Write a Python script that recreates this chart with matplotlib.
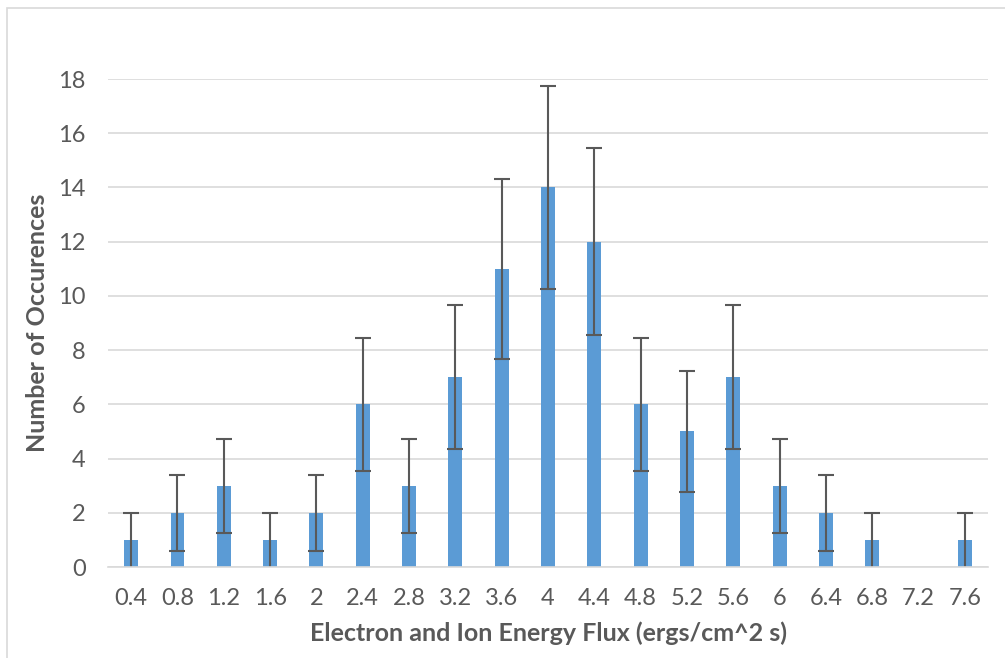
import matplotlib
matplotlib.use("Agg")
import matplotlib.pyplot as plt
from matplotlib.patches import Rectangle

categories = ["0.4", "0.8", "1.2", "1.6", "2", "2.4", "2.8", "3.2", "3.6", "4",
              "4.4", "4.8", "5.2", "5.6", "6", "6.4", "6.8", "7.2", "7.6"]
counts = [1, 2, 3, 1, 2, 6, 3, 7, 11, 14, 12, 6, 5, 7, 3, 2, 1, 0, 1]
errors = [1, 1.41, 1.73, 1, 1.41, 2.45, 1.73, 2.65, 3.32, 3.74,
          3.46, 2.45, 2.24, 2.65, 1.73, 1.41, 1, 0, 1]
yticks = [0, 2, 4, 6, 8, 10, 12, 14, 16, 18]

plt.rcParams['font.family'] = ['Lato', 'DejaVu Sans']
text_color = "#595959"

fig = plt.figure(figsize=(10.05, 6.58), dpi=100)
ax = fig.add_axes([108/1005, 1 - 567/658, (988-108)/1005, (567-79)/658])

x = list(range(len(categories)))
ax.bar(x, counts, width=0.3, color="#5B9BD5", zorder=2)
lower = [min(c, e) for c, e in zip(counts, errors)]
_, caplines, _ = ax.errorbar(x, counts, yerr=[lower, errors], fmt="none",
                             ecolor="#595959", elinewidth=1.5, capsize=6,
                             capthick=1.5, zorder=3)
# caps that sit on the zero line are hidden behind the axis in the original
for cl in caplines:
    xs, ys = cl.get_data()
    keep = [(a, b) for a, b in zip(xs, ys) if b > 0.01]
    cl.set_data([k[0] for k in keep], [k[1] for k in keep])

ax.set_xlim(-0.5, len(categories) - 0.5)
ax.set_ylim(0, 18)
ax.set_yticks(yticks)
ax.set_xticks(x)
ax.set_xticklabels(categories)
ax.grid(axis="y", color="#D9D9D9", linewidth=1.2, zorder=0)
ax.set_axisbelow(True)
for s in ["top", "right", "left"]:
    ax.spines[s].set_visible(False)
ax.spines["bottom"].set_color("#D9D9D9")
ax.spines["bottom"].set_linewidth(1.2)
ax.spines["bottom"].set_zorder(4)
ax.tick_params(axis="both", length=0, labelsize=17, colors=text_color)
ax.tick_params(axis="x", pad=15)
ax.tick_params(axis="y", pad=16)

ax.set_xlabel("Electron and Ion Energy Flux (ergs/cm^2 s)", fontsize=18,
              fontweight="bold", color=text_color, labelpad=9)
ax.set_ylabel("Number of Occurences", fontsize=18, fontweight="bold",
              color=text_color, va="center")
ax.yaxis.set_label_coords(-70/880, 0.5)

fig.patches.append(Rectangle((7/1005, -0.1), 1.2, 1 - 8/658 + 0.1,
                             transform=fig.transFigure, fill=False,
                             edgecolor="#D9D9D9", linewidth=1.2))

fig.savefig("out.png", dpi=100)
